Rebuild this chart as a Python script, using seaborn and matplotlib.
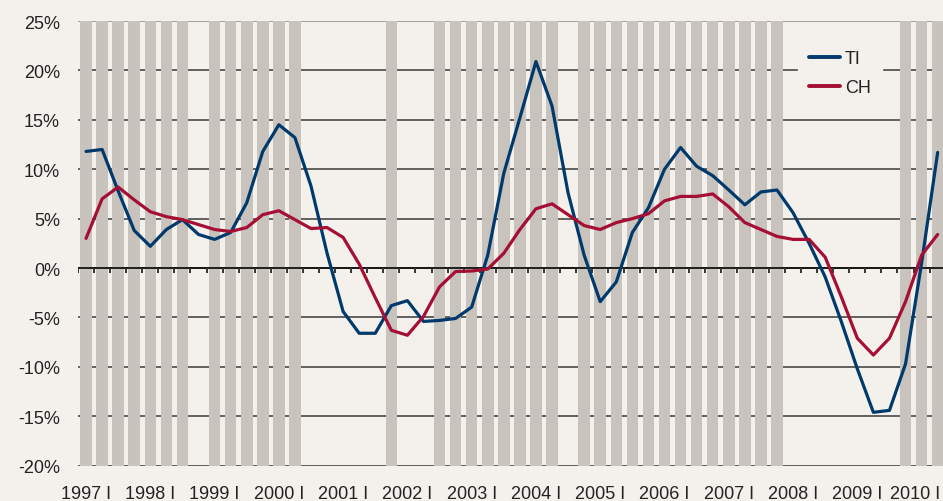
import matplotlib
matplotlib.use("Agg")
import matplotlib.pyplot as plt
import matplotlib.transforms as mtransforms
import seaborn as sns
import numpy as np
import pandas as pd

# ---------------------------------- Data ----------------------------------

years = list(range(1997, 2011))
year_labels = [f"{y} I" for y in years]

# quarterly growth rates, 1997 Q1 .. 2010 Q2 (in %)
ti = [11.8, 12.0, 7.8, 3.8, 2.2, 3.9, 4.9, 3.4, 2.9, 3.6, 6.6, 11.8, 14.5, 13.2,
      8.3, 1.5, -4.4, -6.6, -6.6, -3.8, -3.3, -5.4, -5.3, -5.1, -3.95, 1.3,
      9.6, 15.2, 20.9, 16.4, 7.6, 1.3, -3.4, -1.4, 3.6, 6.1, 10.0, 12.2, 10.3,
      9.35, 7.9, 6.4, 7.7, 7.9, 5.6, 2.5, -0.9, -5.4, -10.2, -14.6, -14.4,
      -9.7, 0.5, 11.7]
ch = [3.0, 7.0, 8.2, 6.9, 5.7, 5.2, 4.9, 4.4, 3.9, 3.7, 4.1, 5.4, 5.8, 4.9,
      4.0, 4.1, 3.1, 0.4, -3.0, -6.3, -6.8, -4.9, -1.9, -0.35, -0.3, -0.1,
      1.5, 3.9, 6.0, 6.5, 5.4, 4.3, 3.9, 4.6, 5.0, 5.5, 6.8, 7.25, 7.25, 7.5,
      6.2, 4.6, 3.9, 3.2, 2.9, 2.9, 1.1, -2.9, -7.1, -8.8, -7.1, -3.4, 1.3, 3.4]

# shaded quarters (1 = shaded)
shaded = [1, 1, 1, 1, 1, 1, 1, 0, 1, 1, 1, 1, 1, 1,
          0, 0, 0, 0, 0, 1, 0, 0, 1, 1, 1, 1, 1, 1, 1, 1,
          0, 1, 1, 1, 1, 1, 1, 1, 1, 1, 1, 1, 1, 1,
          0, 0, 0, 0, 0, 0, 0, 1, 1, 1]

n = len(ti)
q = np.arange(n)
df = pd.DataFrame({"q": np.concatenate([q, q]),
                   "value": ti + ch,
                   "series": ["TI"] * n + ["CH"] * n})

# ---------------------------------- Style ----------------------------------

bg = "#f4f1ed"
sns.set_theme(style="white")
plt.rcParams["font.family"] = ["Liberation Sans", "DejaVu Sans"]
plt.rcParams["text.color"] = "#222222"

fig = plt.figure(figsize=(9.43, 5.02), dpi=100, facecolor=bg)
W, H = 943, 502
left, right, top, bottom = 78, 945.7, 22, 466.7
ax = fig.add_axes([left / W, 1 - bottom / H, (right - left) / W, (bottom - top) / H])
ax.set_facecolor(bg)

# gridlines (under the shaded bars)
for v in range(-20, 26, 5):
    ax.axhline(v, color="#8a8a8a" if v == 25 else "#3a3a3a", lw=1.1, zorder=0)

# shaded quarters
ax.bar(q, [45 * s for s in shaded], bottom=-20, width=0.72,
       color="#c9c3bd", linewidth=0, zorder=1)

# zero line with quarter ticks
ax.axhline(0, color="#111111", lw=1.3, zorder=2)
ax.vlines(np.arange(-0.5, n, 1.0), -0.45, 0, color="#333333", lw=1.4, zorder=2)

sns.lineplot(data=df, x="q", y="value", hue="series",
             palette={"TI": "#003a6c", "CH": "#a50f34"},
             linewidth=2.3, ax=ax, zorder=3)

ax.set_xlim(-0.5, n - 0.5)
ax.set_ylim(-20, 25)
ax.set_yticks(range(-20, 26, 5))
ax.set_yticklabels([f"{v}%" for v in range(-20, 26, 5)])
ax.set_xticks(q[::4])
ax.set_xticklabels(year_labels)
ax.tick_params(axis="y", length=0, pad=13, labelsize=13, labelcolor="#222222")
ax.tick_params(axis="x", length=0, pad=14, labelsize=13, labelcolor="#222222")
ax.set_xlabel("")
ax.set_ylabel("")
for s in ax.spines.values():
    s.set_visible(False)

# last year label sits at the right edge; nudge it left a little
last = ax.get_xticklabels()[-1]
last.set_transform(last.get_transform() +
                   mtransforms.ScaledTranslation(-6 / 100, 0, fig.dpi_scale_trans))

leg = ax.legend(loc="upper left", bbox_to_anchor=(798 / W, 1 - 40 / H),
                bbox_transform=fig.transFigure, frameon=True, fontsize=13,
                handlelength=1.7, handletextpad=0.3, borderpad=0.6,
                labelspacing=0.68, borderaxespad=0)
leg.get_frame().set_facecolor(bg)
leg.get_frame().set_edgecolor(bg)
leg.get_frame().set_alpha(1)
leg.get_frame().set_boxstyle("square", pad=0)
for line in leg.get_lines():
    line.set_linewidth(2.8)
leg.set_zorder(4)

fig.savefig("out.png", dpi=100, facecolor=bg)
